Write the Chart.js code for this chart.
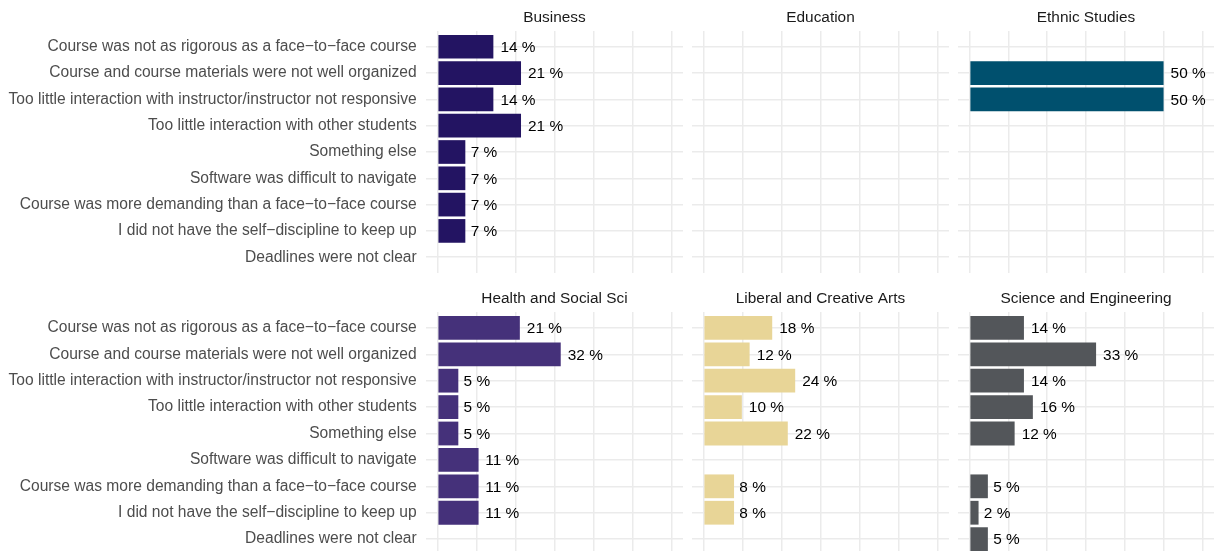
<!DOCTYPE html>
<html>
<head>
<meta charset="utf-8">
<script src="https://cdn.jsdelivr.net/npm/chart.js@4/dist/chart.umd.min.js"></script>
<style>
  html, body { margin: 0; padding: 0; background: #fff; overflow: hidden; }
  #wrap { position: relative; width: 1214px; height: 551px; overflow: hidden; }
  canvas { position: absolute; }
</style>
</head>
<body>
<div id="wrap"></div>
<script>
// categories, top to bottom
const categories = [
  'Course was not as rigorous as a face\u2212to\u2212face course',
  'Course and course materials were not well organized',
  'Too little interaction with instructor/instructor not responsive',
  'Too little interaction with other students',
  'Something else',
  'Software was difficult to navigate',
  'Course was more demanding than a face\u2212to\u2212face course',
  'I did not have the self\u2212discipline to keep up',
  'Deadlines were not clear'
];

const panelNames = ['Business', 'Education', 'Ethnic Studies',
  'Health and Social Sci', 'Liberal and Creative Arts', 'Science and Engineering'];

// percent of respondents per category (null = no bar)
const business      = [14.3, 21.4, 14.3, 21.4, 7.1, 7.1, 7.1, 7.1, null];
const education     = [null, null, null, null, null, null, null, null, null];
const ethnicStudies = [null, 50, 50, null, null, null, null, null, null];
const healthSocial  = [21.1, 31.6, 5.3, 5.3, 5.3, 10.5, 10.5, 10.5, null];
const liberalArts   = [17.6, 11.8, 23.5, 9.8, 21.6, null, 7.8, 7.8, null];
const scienceEng    = [14.0, 32.6, 14.0, 16.3, 11.6, null, 4.7, 2.3, 4.7];

const panelValues = [business, education, ethnicStudies, healthSocial, liberalArts, scienceEng];
const panelColors = ['#231462', '#231462', '#00506e', '#45317a', '#e8d597', '#53565a'];

const xTicks = [0, 10, 20, 30, 40, 50, 60];

const FONT = '"Liberation Sans", Arial, Helvetica, sans-serif';
const FSIZE = 15.4;
const AXIS_FSIZE = 15.6;

// facet layout (chart area in page pixels)
const colLeft  = [426, 692, 958];
const colRight = [683, 949, 1214];
const rowTop   = [31, 312];
const rowBottom = [273, 555];
const PAD_TOP = 31, PAD_BOTTOM = 30;

const facetTitle = {
  id: 'facetTitle',
  afterDraw(chart, args, opts) {
    const a = chart.chartArea;
    const ctx = chart.ctx;
    ctx.save();
    ctx.font = FSIZE + 'px ' + FONT;
    ctx.fillStyle = '#1a1a1a';
    ctx.textAlign = 'center';
    ctx.textBaseline = 'alphabetic';
    ctx.fillText(opts.text, (a.left + a.right) / 2, a.top - 9.5);
    ctx.restore();
  }
};

const valueLabels = {
  id: 'valueLabels',
  afterDatasetsDraw(chart) {
    const ctx = chart.ctx;
    const pts = chart.data.datasets[0].data;
    ctx.save();
    ctx.font = FSIZE + 'px ' + FONT;
    ctx.fillStyle = '#000';
    ctx.textAlign = 'left';
    ctx.textBaseline = 'middle';
    chart.getDatasetMeta(0).data.forEach((bar, i) => {
      const txt = Math.round(pts[i].x) + ' %';
      const w = ctx.measureText(txt).width;
      ctx.fillText(txt, bar.x + 0.2 * w, bar.y + 1);
    });
    ctx.restore();
  }
};

function toPoints(values) {
  return values.map((v, i) => ({ x: v, y: i + 1 })).filter(p => p.x !== null);
}

const wrap = document.getElementById('wrap');

panelValues.forEach((vals, k) => {
  const col = k % 3, row = Math.floor(k / 3);
  const isLeft = col === 0;
  const left = isLeft ? 0 : colLeft[col];
  const top = rowTop[row] - PAD_TOP;
  const canvas = document.createElement('canvas');
  canvas.width = colRight[col] - left;
  canvas.height = rowBottom[row] - top + PAD_BOTTOM;
  canvas.style.left = left + 'px';
  canvas.style.top = top + 'px';
  wrap.appendChild(canvas);

  new Chart(canvas, {
    type: 'bar',
    data: {
      datasets: [{
        data: toPoints(vals),
        backgroundColor: panelColors[k],
        borderWidth: 0,
        barPercentage: 0.9,
        categoryPercentage: 1
      }]
    },
    options: {
      indexAxis: 'y',
      responsive: false,
      maintainAspectRatio: false,
      animation: false,
      layout: { padding: { top: PAD_TOP, left: 0, right: 0, bottom: PAD_BOTTOM } },
      plugins: {
        legend: { display: false },
        tooltip: { enabled: false },
        facetTitle: { text: panelNames[k] }
      },
      scales: {
        x: {
          type: 'linear',
          min: -3,
          max: 63,
          offset: false,
          border: { display: false },
          grid: { color: '#ebebeb', lineWidth: 1.5, drawTicks: false, offset: false },
          ticks: { display: false },
          afterBuildTicks: s => { s.ticks = xTicks.map(v => ({ value: v })); },
          afterFit: s => { s.height = 0; }
        },
        y: {
          type: 'linear',
          reverse: true,
          min: 0.4,
          max: 9.6,
          offset: false,
          border: { display: false },
          grid: { color: '#ebebeb', lineWidth: 1.5, drawTicks: false, offset: false },
          ticks: {
            display: isLeft,
            autoSkip: false,
            padding: 9.3,
            color: '#4d4d4d',
            font: { family: FONT, size: AXIS_FSIZE },
            callback: v => categories[v - 1]
          },
          afterBuildTicks: s => { s.ticks = categories.map((c, i) => ({ value: i + 1 })); },
          afterFit: s => { s.width = isLeft ? colLeft[0] : 0; }
        }
      }
    },
    plugins: [facetTitle, valueLabels]
  });
});
</script>
</body>
</html>
